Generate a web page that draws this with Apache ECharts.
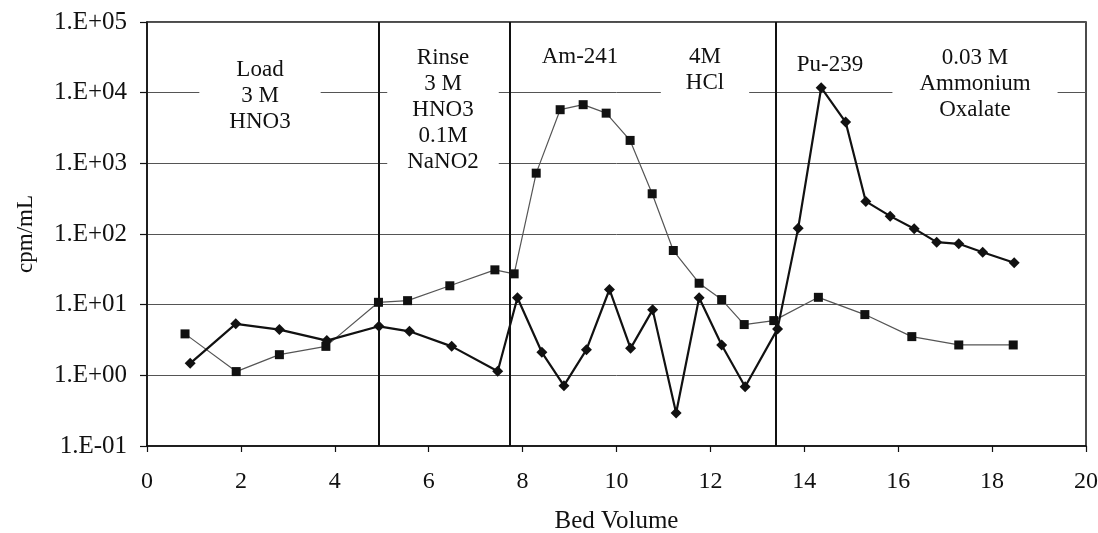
<!DOCTYPE html>
<html>
<head>
<meta charset="utf-8">
<script src="https://cdn.jsdelivr.net/npm/echarts@6/dist/echarts.min.js"></script>
<style>
html,body{margin:0;padding:0;background:#fff;}
#chart{width:1098px;height:533px;}
</style>
</head>
<body>
<div id="chart"></div>
<script>
// Am-241 (square markers)
const bedVolumeAm = [0.81,1.90,2.82,3.81,4.93,5.55,6.45,7.41,7.82,8.29,8.80,9.29,9.78,10.29,10.76,11.21,11.76,12.24,12.72,13.35,14.30,15.29,16.29,17.29,18.45];
const cpmAm = [3.86,1.13,1.96,2.57,10.8,11.4,18.5,31.1,27.3,726,5740,6760,5130,2110,371,58.4,20.1,11.8,5.23,5.95,12.7,7.24,3.53,2.69,2.69];
// Pu-239 (diamond markers)
const bedVolumePu = [0.92,1.89,2.82,3.83,4.94,5.59,6.49,7.47,7.89,8.41,8.88,9.36,9.85,10.30,10.77,11.27,11.76,12.24,12.74,13.43,13.87,14.36,14.88,15.31,15.83,16.34,16.82,17.29,17.80,18.47];
const cpmPu = [1.48,5.35,4.44,3.1,4.94,4.2,2.57,1.14,12.5,2.12,0.715,2.31,16.4,2.41,8.44,0.293,12.5,2.69,0.69,4.54,121,11750,3840,289,179,119,76.6,72.6,55.3,39.1];
// Phase boundaries (bed volume)
const phaseBoundaries = [4.93, 7.73, 13.40];
// Phase annotation texts
const phaseLabels = ["Load\n3 M\nHNO3", "Rinse\n3 M\nHNO3\n0.1M\nNaNO2", "Am-241", "4M\nHCl", "Pu-239", "0.03 M\nAmmonium\nOxalate"];

const FONT = '"Liberation Serif", "Times New Roman", serif';

function zip(xs, ys){ return xs.map((x,i)=>[x, ys[i]]); }

function fmtExp(v){
  const e = Math.round(Math.log10(v));
  return '1.E' + (e < 0 ? '-' : '+') + String(Math.abs(e)).padStart(2,'0');
}

const chart = echarts.init(document.getElementById('chart'));

function annot(text, x, y, padH, padV){
  return {
    type: 'text', z: 100,
    style: {
      text: text, x: x, y: y,
      align: 'center', verticalAlign: 'middle',
      font: '23px ' + FONT, lineHeight: 26,
      fill: '#111',
      backgroundColor: '#fff',
      padding: [padV, padH, padV, padH]
    }
  };
}

chart.setOption({
  animation: false,
  backgroundColor: '#fff',
  grid: { left: 147, right: 12, top: 22, bottom: 87, show: true, borderColor: '#111', borderWidth: 1.5, backgroundColor: 'transparent', outerBoundsMode: 'none', containLabel: false },
  xAxis: {
    type: 'value', min: 0, max: 20, interval: 2,
    name: 'Bed Volume', nameLocation: 'middle', nameGap: 63,
    nameTextStyle: { fontFamily: FONT, fontSize: 25, color: '#111' },
    axisLine: { show: true, lineStyle: { color: '#111', width: 1.5 } },
    axisTick: { show: true, length: 6, lineStyle: { color: '#111', width: 1.2 } },
    axisLabel: { fontFamily: FONT, fontSize: 24, color: '#111', margin: 24 },
    splitLine: { show: false }
  },
  yAxis: {
    type: 'log', logBase: 10, min: 0.1, max: 100000, splitNumber: 6,
    name: 'cpm/mL', nameLocation: 'middle', nameGap: 110,
    nameTextStyle: { fontFamily: FONT, fontSize: 23, color: '#111' },
    axisLine: { show: true, lineStyle: { color: '#111', width: 1.5 } },
    axisTick: { show: true, length: 7, lineStyle: { color: '#111', width: 1.2 } },
    axisLabel: { fontFamily: FONT, fontSize: 25, color: '#111', margin: 20, formatter: fmtExp },
    splitLine: { show: true, lineStyle: { color: '#555', width: 1 } },
    minorTick: { show: false }
  },
  series: [
    {
      name: 'Am-241', type: 'line',
      data: zip(bedVolumeAm, cpmAm),
      symbol: 'rect', symbolSize: 9,
      itemStyle: { color: '#111' },
      lineStyle: { color: '#555', width: 1.2 },
      z: 3,
      markLine: {
        silent: true, symbol: ['none','none'],
        label: { show: false },
        lineStyle: { color: '#111', width: 2, type: 'solid' },
        data: phaseBoundaries.map(v => ({ xAxis: v }))
      }
    },
    {
      name: 'Pu-239', type: 'line',
      data: zip(bedVolumePu, cpmPu),
      symbol: 'diamond', symbolSize: 11,
      itemStyle: { color: '#111' },
      lineStyle: { color: '#111', width: 2.2 },
      z: 4
    }
  ],
  graphic: [
    annot(phaseLabels[0], 260, 96, 30, 6),
    annot(phaseLabels[1], 443, 110, 20, 4),
    annot(phaseLabels[2], 580, 57, 4, 2),
    annot(phaseLabels[3], 705, 70, 25, 4),
    annot(phaseLabels[4], 830, 65, 4, 2),
    annot(phaseLabels[5], 975, 84, 27, 4)
  ]
});
</script>
</body>
</html>
